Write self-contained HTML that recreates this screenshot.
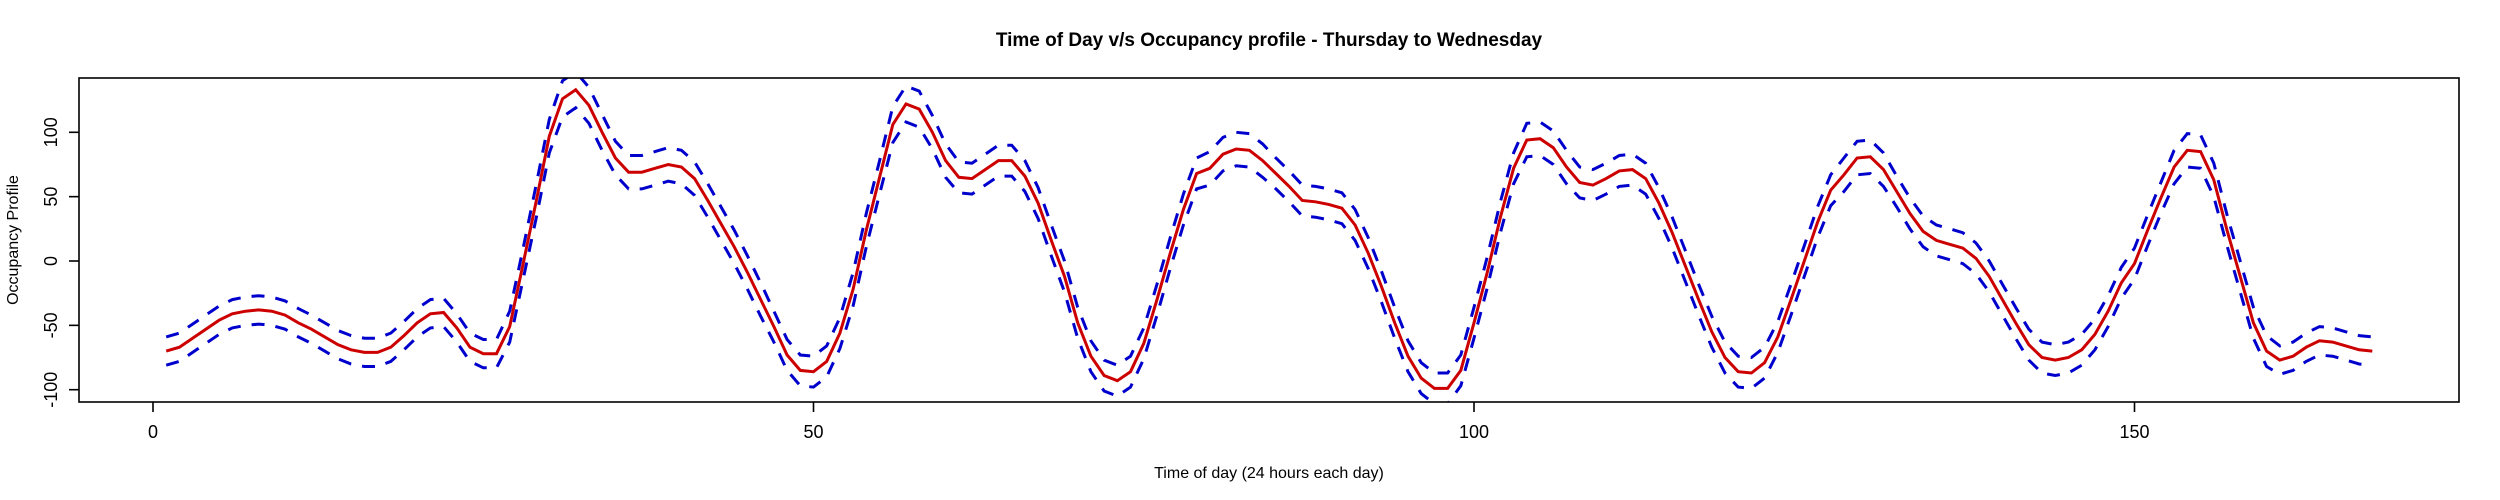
<!DOCTYPE html>
<html><head><meta charset="utf-8"><style>
html,body{margin:0;padding:0;background:#fff;}
svg{display:block;font-family:"Liberation Sans",Arial,sans-serif;}
</style></head><body>
<svg id="chart" width="2500" height="500" viewBox="0 0 2500 500" xmlns="http://www.w3.org/2000/svg">
<rect width="2500" height="500" fill="#fff"/>
<text x="1269" y="46" text-anchor="middle" font-size="19" font-weight="bold">Time of Day v/s Occupancy profile - Thursday to Wednesday</text>
<text x="1269" y="478" text-anchor="middle" font-size="16">Time of day (24 hours each day)</text>
<text transform="translate(18,240) rotate(-90)" text-anchor="middle" font-size="16">Occupancy Profile</text>
<g id="axes"></g>
<g id="series"></g>
<rect x="79" y="78" width="2380" height="324" fill="none" stroke="#000" stroke-width="1.6"/>
</svg>
<script>
const hours = Array.from({length:168},(_,i)=>i+1);
const meanProfile = [-70,-67,-60,-53,-46,-41,-39,-38,-39,-42,-48,-53,-59,-65,-69,-71,-71,-67,-58,-48,
-41,-40,-52,-67,-72,-72,-51,-3,46,97,126,133,121,100,80,69,69,72,75,73,
64,47,29,11,-9,-30,-51,-73,-85,-86,-78,-56,-22,24,65,106,122,118,100,78,
65,64,71,78,78,66,45,16,-12,-48,-74,-89,-93,-86,-64,-30,6,40,68,72,
83,87,86,78,68,58,47,46,44,41,28,6,-20,-48,-74,-91,-99,-99,-85,-48,
-9,34,72,94,95,88,73,61,59,64,70,71,64,45,22,-4,-30,-55,-75,-86,
-87,-79,-59,-30,0,30,55,67,80,81,71,54,37,23,16,13,10,2,-12,-30,
-48,-65,-75,-77,-75,-69,-57,-39,-17,-2,24,49,73,86,85,63,24,-12,-48,-70,
-77,-74,-67,-62,-63,-66,-69,-70];
const bandHalfWidth = [11,11,11,11,11,11,11,11,11,11,11,11,11,11,11,11,11,11,11,11,
11,11,11,11,11,11,12,12,13,13,14,14,14,14,13,13,13,13,13,13,
13,13,13,13,13,13,12,12,12,12,12,12,13,13,13,14,14,14,13,13,
12,12,12,12,12,12,12,12,12,12,12,12,12,12,12,12,12,12,12,13,
13,13,13,13,12,12,12,12,12,12,12,12,12,12,12,12,12,12,12,12,
12,12,12,13,13,13,13,12,12,12,12,12,12,12,12,12,12,12,12,12,
12,12,12,12,12,12,12,13,13,13,13,12,12,12,12,12,12,12,12,12,
12,12,12,12,12,12,12,12,12,12,12,12,13,13,13,13,12,12,12,12,
11,11,11,11,11,11,11,11];
const xTicks = [0,50,100,150];
const yTicks = [-100,-50,0,50,100];

const NS="http://www.w3.org/2000/svg";
const xs = t => 153 + 13.21*t;
const ys = v => 261 - 1.287*v;
const axes = document.getElementById('axes');
const series = document.getElementById('series');
function mk(tag, attrs, parent){const e=document.createElementNS(NS,tag);for(const k in attrs)e.setAttribute(k,attrs[k]);parent.appendChild(e);return e;}

xTicks.forEach(t=>{
  const l=mk('line',{x1:xs(t),x2:xs(t),y1:402,y2:412,stroke:'#000','stroke-width':1.6},axes);
  
  
  const tx=mk('text',{x:xs(t),y:438,'text-anchor':'middle','font-size':18},axes);
  tx.textContent=t;
  
  
});
yTicks.forEach(v=>{
  const l=mk('line',{x1:69,x2:79,y1:ys(v),y2:ys(v),stroke:'#000','stroke-width':1.6},axes);
  
  
  const tx=mk('text',{transform:`translate(57,${ys(v)}) rotate(-90)`,'text-anchor':'middle','font-size':18},axes);
  tx.textContent=v;
  
  
});

function pathFrom(vals){return vals.map((v,i)=>(i?'L':'M')+xs(hours[i]).toFixed(1)+','+ys(v).toFixed(1)).join(' ');}
const upper = meanProfile.map((v,i)=>v+bandHalfWidth[i]);
const lower = meanProfile.map((v,i)=>v-bandHalfWidth[i]);
const cp = mk('clipPath',{id:'clip'},series); mk('rect',{x:79,y:78,width:2380,height:324},cp);
const up=mk('path',{d:pathFrom(upper),fill:'none',stroke:'#0000CD','stroke-width':3,'stroke-dasharray':'13,11','clip-path':'url(#clip)'},series);


const lo=mk('path',{d:pathFrom(lower),fill:'none',stroke:'#0000CD','stroke-width':3,'stroke-dasharray':'13,11','clip-path':'url(#clip)'},series);


const mn=mk('path',{d:pathFrom(meanProfile),fill:'none',stroke:'#CD0000','stroke-width':3,'clip-path':'url(#clip)'},series);


</script>
</body></html>
